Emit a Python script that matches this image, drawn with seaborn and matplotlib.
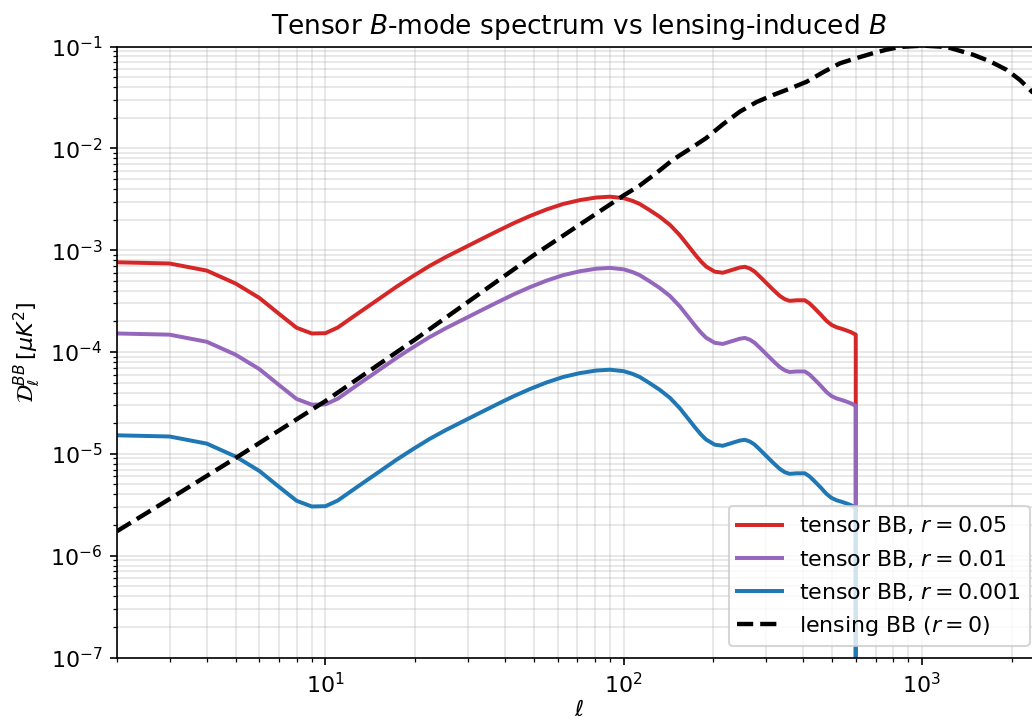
import numpy as np
import pandas as pd
import matplotlib
matplotlib.use("Agg")
import matplotlib.pyplot as plt
import seaborn as sns

# Tensor BB band powers for r = 0.05 (computed up to ell = 600, zero beyond)
ell_tensor = [2, 3, 4, 5, 6, 7, 8, 9, 10, 11, 12, 13, 15.2, 17.3, 19.6, 22.3, 25.4,
              28.9, 32.9, 37.4, 42.6, 48.4, 55.1, 62.6, 71.2, 81, 90, 100, 107, 113,
              122, 132, 143, 154, 162, 175, 182, 189, 202, 215, 233, 245, 255, 265,
              275, 288, 301, 318, 334, 347, 360, 380, 405, 420, 437, 458, 478, 497,
              517, 538, 558, 580, 600, 601, 2500]
dl_tensor_r005 = [7.6e-4, 7.4e-4, 6.3e-4, 4.7e-4, 3.4e-4, 2.36e-4, 1.73e-4, 1.52e-4,
                  1.53e-4, 1.74e-4, 2.08e-4, 2.45e-4, 3.36e-4, 4.37e-4, 5.53e-4,
                  6.98e-4, 8.6e-4, 1.04e-3, 1.26e-3, 1.52e-3, 1.83e-3, 2.16e-3,
                  2.51e-3, 2.84e-3, 3.1e-3, 3.29e-3, 3.35e-3, 3.24e-3, 3.05e-3,
                  2.85e-3, 2.48e-3, 2.13e-3, 1.77e-3, 1.41e-3, 1.17e-3, 8.8e-4,
                  7.7e-4, 6.9e-4, 6.15e-4, 6.0e-4, 6.45e-4, 6.75e-4, 6.87e-4, 6.6e-4,
                  6.15e-4, 5.4e-4, 4.75e-4, 4.05e-4, 3.55e-4, 3.3e-4, 3.18e-4,
                  3.22e-4, 3.22e-4, 3.0e-4, 2.68e-4, 2.33e-4, 2.03e-4, 1.85e-4,
                  1.75e-4, 1.69e-4, 1.63e-4, 1.56e-4, 1.48e-4, 0.0, 0.0]
r_template = 0.05

# Tensor-to-scalar ratios shown
r_values = [0.05, 0.01, 0.001]
r_labels = ["0.05", "0.01", "0.001"]
r_colors = ["#d62728", "#9467bd", "#1f77b4"]

# Lensing-induced BB spectrum
ell_lens = [2, 3, 5, 10, 20, 50, 100, 113, 129, 146, 166, 189, 215, 245, 279, 317,
            360, 410, 467, 531, 604, 686, 760, 843, 1009, 1210, 1486, 1700, 1923,
            2130, 2338, 2500]
dl_lens = [1.74e-6, 3.6e-6, 9.1e-6, 3.3e-5, 1.33e-4, 8.95e-4, 3.45e-3, 4.3e-3,
           5.75e-3, 7.7e-3, 9.8e-3, 1.26e-2, 1.72e-2, 2.29e-2, 2.85e-2, 3.34e-2,
           3.85e-2, 4.5e-2, 5.6e-2, 6.84e-2, 7.7e-2, 8.6e-2, 9.3e-2, 0.099, 0.102,
           0.099, 0.083, 0.071, 0.059, 0.047, 0.036, 0.029]

W, H, DPI = 1032, 723, 150
FS = 10.6
fig = plt.figure(figsize=(W / DPI, H / DPI), dpi=DPI)
ax = fig.add_axes([117 / W, (H - 657.5) / H, 923.6 / W, 611 / H])
ax.set_xscale("log")
ax.set_yscale("log")

for r, lab, col in zip(r_values, r_labels, r_colors):
    df = pd.DataFrame({
        "ell": ell_tensor,
        "dl": np.asarray(dl_tensor_r005) * (r / r_template),
    })
    sns.lineplot(data=df, x="ell", y="dl", ax=ax, color=col, lw=1.9,
                 estimator=None, sort=False, label=f"tensor BB, $r={lab}$")

df_lens = pd.DataFrame({"ell": ell_lens, "dl": dl_lens})
sns.lineplot(data=df_lens, x="ell", y="dl", ax=ax, color="black", lw=2.1,
             linestyle="--", estimator=None, sort=False,
             label="lensing BB ($r=0$)")

ax.set_xlim(2, 2500)
ax.set_ylim(1e-7, 1e-1)
ax.grid(True, which="both", color="#b0b0b0", alpha=0.35, lw=0.8)
ax.set_axisbelow(True)
ax.tick_params(axis="both", which="both", labelsize=FS)

ax.set_title("Tensor $B$-mode spectrum vs lensing-induced $B$", fontsize=12.7)
ax.set_xlabel(r"$\ell$", fontsize=FS, labelpad=1)
ax.set_ylabel(r"$\mathcal{D}_\ell^{BB}\,[\mu K^2]$", fontsize=FS)
ax.legend(loc="lower right", fontsize=FS)

fig.savefig("out.png", dpi=DPI)
